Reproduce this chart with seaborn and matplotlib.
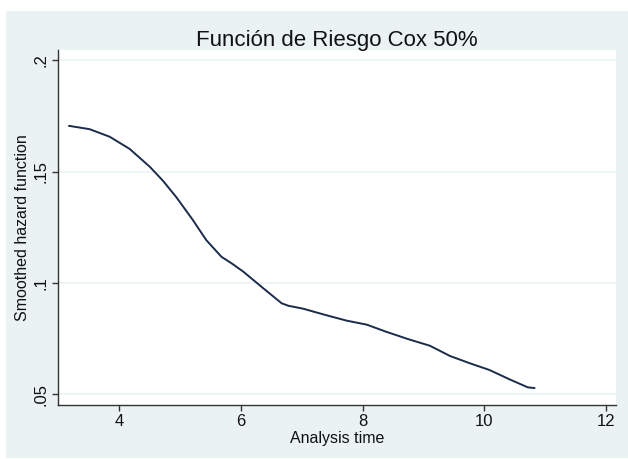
import matplotlib
matplotlib.use("Agg")
import matplotlib.pyplot as plt
from matplotlib.patches import Rectangle
import seaborn as sns
import pandas as pd

# Data
analysis_time = [3.17, 3.51, 3.84, 4.17, 4.50, 4.72, 4.94, 5.21, 5.43, 5.68, 5.85,
                 6.04, 6.37, 6.67, 6.78, 7.02, 7.41, 7.74, 8.07, 8.39, 8.75,
                 9.11, 9.44, 9.77, 10.09, 10.42, 10.72, 10.83]
hazard = [0.1706, 0.1691, 0.1657, 0.1602, 0.1522, 0.1458, 0.1384, 0.1282, 0.1192, 0.1117, 0.1087,
          0.1050, 0.0975, 0.0908, 0.0897, 0.0884, 0.0854, 0.0830, 0.0812, 0.0780, 0.0747,
          0.0717, 0.0671, 0.0638, 0.0608, 0.0566, 0.0530, 0.0527]
x_ticks = [4, 6, 8, 10, 12]
y_ticks = [0.05, 0.10, 0.15, 0.20]
y_tick_labels = [".05", ".1", ".15", ".2"]

df = pd.DataFrame({"time": analysis_time, "hazard": hazard})

sns.set_style("white")
plt.rcParams["font.family"] = ["Liberation Sans", "DejaVu Sans"]

BG = "#EAF2F3"
fig = plt.figure(figsize=(6.28, 4.59), dpi=100, facecolor="white")
bg = Rectangle((6 / 628, 1 / 459), 622 / 628, 447 / 459,
               transform=fig.transFigure, facecolor=BG, edgecolor="none", zorder=-10)
fig.add_artist(bg)
ax = fig.add_axes([58 / 628, 1 - 404.5 / 459, (616 - 58) / 628, (404.5 - 50) / 459])
ax.set_zorder(1)
ax.set_facecolor("white")

sns.lineplot(data=df, x="time", y="hazard", ax=ax, color="#1b2b4b", linewidth=1.4)

ax.set_xlim(2.99, 12.17)
ax.set_ylim(0.0453, 0.2047)
ax.set_xticks(x_ticks)
ax.set_xticklabels([str(t) for t in x_ticks])
ax.set_yticks(y_ticks)
ax.set_yticklabels(y_tick_labels, rotation=90, va="center")

ax.yaxis.grid(True, color=BG, linewidth=1.2)
ax.xaxis.grid(False)
ax.set_axisbelow(True)

for side in ["top", "right"]:
    ax.spines[side].set_visible(False)
for side in ["left", "bottom"]:
    ax.spines[side].set_color("#333333")
    ax.spines[side].set_linewidth(1.0)

ax.tick_params(axis="both", direction="out", length=4, width=1.0, color="#333333",
               labelsize=12, labelcolor="#111111", pad=3, left=True, bottom=True)

ax.set_xlabel("Analysis time", fontsize=11.5, color="#111111", labelpad=1)
ax.set_ylabel("Smoothed hazard function", fontsize=11.5, color="#111111", labelpad=2)
ax.set_title("Función de Riesgo Cox 50%", fontsize=16, color="#111111", pad=3)

fig.savefig("out.png", dpi=100, facecolor="white")
